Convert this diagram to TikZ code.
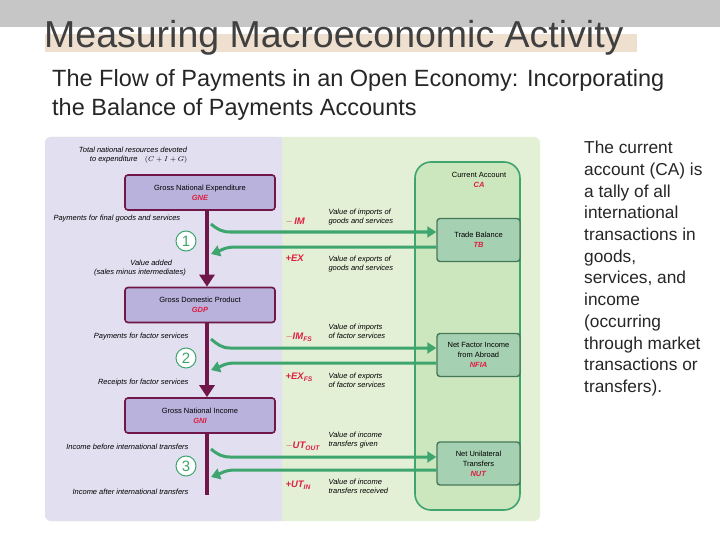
\documentclass[tikz,border=0pt]{standalone}
\usepackage{fontspec}
\setmainfont{Liberation Sans}
\usetikzlibrary{arrows.meta}
\definecolor{lav}{RGB}{226,223,240}
\definecolor{pgreen}{RGB}{228,240,214}
\definecolor{pfill}{RGB}{184,178,220}
\definecolor{pdark}{RGB}{112,22,72}
\definecolor{cafill}{RGB}{204,230,190}
\definecolor{gline}{RGB}{62,165,110}
\definecolor{tbfill}{RGB}{165,208,178}
\definecolor{tbline}{RGB}{70,120,90}
\definecolor{rd}{RGB}{222,30,66}
\begin{document}
\begin{tikzpicture}[x=1pt,y=-1pt,
 pbox/.style={draw=pdark,line width=1.6pt,fill=pfill,rounded corners=3pt,minimum width=150pt,minimum height=35pt,align=center,font=\fontsize{7.5}{10}\selectfont},
 gbox/.style={draw=tbline,line width=1.4pt,fill=tbfill,rounded corners=3pt,minimum width=83pt,minimum height=43pt,align=center,font=\fontsize{7.5}{10}\selectfont},
 lbl/.style={font=\fontsize{7.5}{9}\selectfont\itshape,align=center},
 rl/.style={font=\fontsize{9.5}{11}\selectfont\itshape\bfseries,text=rd,anchor=west},
 desc/.style={font=\fontsize{7.5}{9}\selectfont\itshape,align=left,anchor=west},
 flow/.style={draw=gline,line width=3pt,-{Triangle[length=9pt,width=11pt]}},
 num/.style={circle,draw=gline,fill=white,line width=1pt,minimum size=20pt,inner sep=0pt,text=gline,font=\fontsize{15}{15}\selectfont}]
\useasboundingbox (0,0) rectangle (720,540);
\fill[white] (0,0) rectangle (720,540);
\fill[gray!45] (0,0) rectangle (720,27);
\fill[brown!25] (45,34) rectangle (637,52);
\node[anchor=base west,inner sep=0,font=\fontsize{37.5}{37.5}\selectfont,text=black!75] (title) at (44,48) {Measuring Macroeconomic Activity};
\node[anchor=north west,inner sep=0,align=left,font=\fontsize{23.5}{29}\selectfont,text=black!85] (sub) at (52,69) {The Flow of Payments in an Open Economy: Incorporating\\the Balance of Payments Accounts};
\node[anchor=north west,inner sep=0,align=left,font=\fontsize{17.3}{21.7}\selectfont,text=black!85] (side) at (584,141) {The current\\account (CA) is\\a tally of all\\international\\transactions in\\goods,\\services, and\\income\\(occurring\\through market\\transactions or\\transfers).};
% panels
\fill[pgreen,rounded corners=6pt] (45,137) rectangle (540,521);
\fill[lav,rounded corners=6pt] (45,137) rectangle (282,521);
\fill[lav] (270,137) rectangle (282,521);
\draw[gline,line width=1.6pt,fill=cafill,rounded corners=16pt] (415,162) rectangle (520,510);
\node[font=\fontsize{7.5}{10}\selectfont,align=center] (ca) at (479,180) {Current Account\\\textcolor{rd}{\textbf{\textit{CA}}}};
\node[gbox] (tb) at (478.5,240) {Trade Balance\\\textcolor{rd}{\textbf{\textit{TB}}}};
\node[gbox] (nfia) at (478.5,355) {Net Factor Income\\from Abroad\\\textcolor{rd}{\textbf{\textit{NFIA}}}};
\node[gbox] (nut) at (478.5,463.5) {Net Unilateral\\Transfers\\\textcolor{rd}{\textbf{\textit{NUT}}}};
% purple boxes
\node[pbox] (gne) at (200,192.5) {Gross National Expenditure\\\textcolor{rd}{\textbf{\textit{GNE}}}};
\node[pbox] (gdp) at (200,305) {Gross Domestic Product\\\textcolor{rd}{\textbf{\textit{GDP}}}};
\node[pbox] (gni) at (200,415.5) {Gross National Income\\\textcolor{rd}{\textbf{\textit{GNI}}}};
\coordinate (end) at (207,495);
\draw[pdark,line width=4pt,-{Triangle[length=12pt,width=15pt]}] (gne.south -| end) -- (gdp.north -| end);
\draw[pdark,line width=4pt,-{Triangle[length=12pt,width=15pt]}] (gdp.south -| end) -- (gni.north -| end);
\draw[pdark,line width=4pt] (gni.south -| end) -- (end);
% flows
\coordinate (a1) at (211,224); \coordinate (b1) at (211,254);
\draw[flow] (a1) to[out=-40,in=180] (230,232) -- (tb.west |- 0,232);
\draw[flow] (tb.west |- 0,247) -- (235,247) to[out=180,in=20] (b1);
\coordinate (a2) at (211,339); \coordinate (b2) at (211,370);
\draw[flow] (a2) to[out=-40,in=180] (230,348) -- (nfia.west |- 0,348);
\draw[flow] (nfia.west |- 0,363) -- (235,363) to[out=180,in=20] (b2);
\coordinate (a3) at (211,449); \coordinate (b3) at (211,477);
\draw[flow] (a3) to[out=-40,in=180] (230,457) -- (nut.west |- 0,457);
\draw[flow] (nut.west |- 0,470) -- (235,470) to[out=180,in=20] (b3);
\node[num] (n1) at (186,241) {1};
\node[num] (n2) at (186,358) {2};
\node[num] (n3) at (186,466) {3};
% left labels
\node[lbl] (l0) at (133,155) {Total national resources devoted\\\hspace*{1.5em}to expenditure\quad $(C+I+G)$};
\node[lbl,anchor=west] (l1) at (50,219) {Payments for final goods and services};
\node[lbl] (l2) at (140,268) {\hspace*{3em}Value added\\(sales minus intermediates)};
\node[lbl,anchor=east] (l3) at (192,337) {Payments for factor services};
\node[lbl,anchor=east] (l4) at (192,383) {Receipts for factor services};
\node[lbl,anchor=east] (l5) at (192,447) {Income before international transfers};
\node[lbl,anchor=east] (l6) at (192,492) {Income after international transfers};
% right labels
\node[rl] (r1) at (282,222) {$-$\,IM};
\node[desc] (d1) at (325,217) {Value of imports of\\goods and services};
\node[rl] (r2) at (282,258) {+EX};
\node[desc] (d2) at (325,264) {Value of exports of\\goods and services};
\node[rl] (r3) at (282,337) {$-$IM\textsubscript{FS}};
\node[desc] (d3) at (325,331) {Value of imports\\of factor services};
\node[rl] (r4) at (282,377) {+EX\textsubscript{FS}};
\node[desc] (d4) at (325,380) {Value of exports\\of factor services};
\node[rl] (r5) at (282,446) {$-$UT\textsubscript{OUT}};
\node[desc] (d5) at (325,440) {Value of income\\transfers given};
\node[rl] (r6) at (282,485) {+UT\textsubscript{IN}};
\node[desc] (d6) at (325,486) {Value of income\\transfers received};
\end{tikzpicture}
\end{document}
